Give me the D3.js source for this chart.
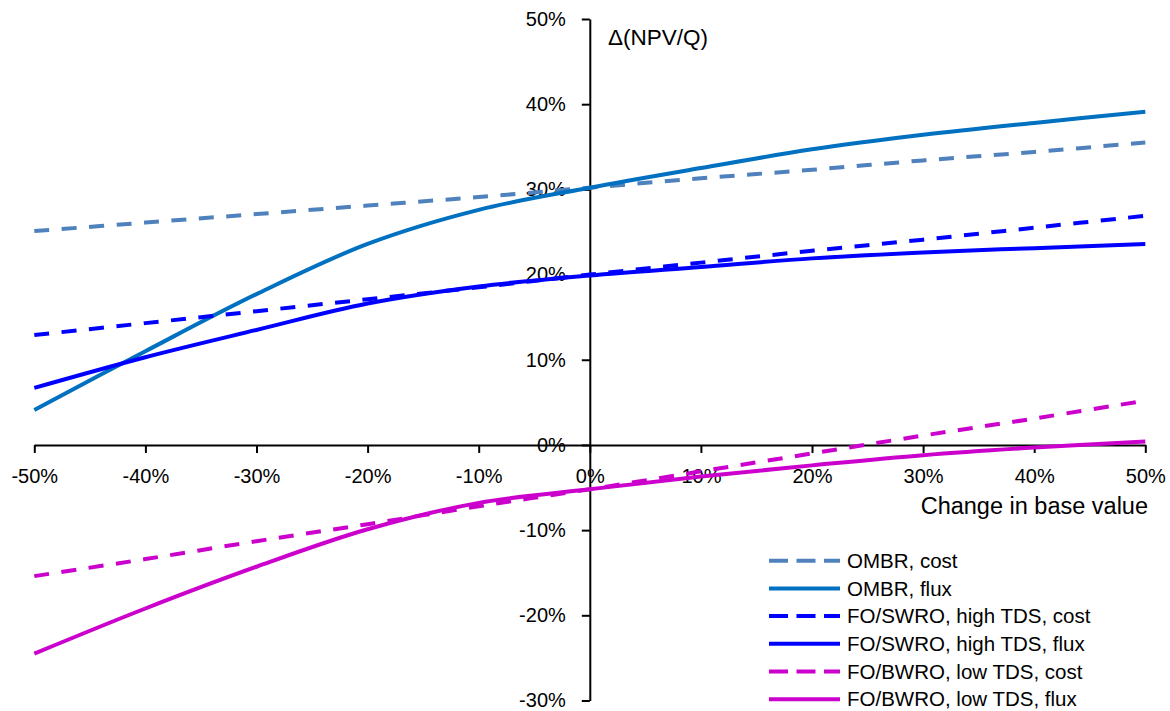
<!DOCTYPE html>
<html>
<head>
<meta charset="utf-8">
<script src="https://cdn.jsdelivr.net/npm/d3@7"></script>
<style>
  body { margin: 0; background: #fff; }
  text { font-family: "Liberation Sans", Arial, sans-serif; fill: #000; }
</style>
</head>
<body>
<script>
// change in base value (%)
const changes = [-50, -40, -30, -20, -10, 0, 10, 20, 30, 40, 50]

// delta NPV/Q (%)
const ombrCost = [25.1, 26.1, 27.1, 28.1, 29.1, 30.2, 31.3, 32.3, 33.4, 34.4, 35.5]
const ombrFlux = [4.1, 11.0, 17.7, 23.6, 27.6, 30.2, 32.5, 34.7, 36.4, 37.8, 39.1]
const swroCost = [12.9, 14.3, 15.7, 17.1, 18.5, 20.0, 21.4, 22.8, 24.1, 25.5, 26.9]
const swroFlux = [6.7, 10.3, 13.5, 16.6, 18.6, 19.9, 20.9, 21.9, 22.6, 23.1, 23.6]
const bwroCost = [-15.4, -13.4, -11.3, -9.3, -7.2, -5.2, -3.1, -1.0, 1.1, 3.1, 5.2]
const bwroFlux = [-24.5, -19.2, -14.3, -9.9, -6.8, -5.2, -3.7, -2.4, -1.2, -0.3, 0.4]

const seriesNames = ['OMBR, cost', 'OMBR, flux', 'FO/SWRO, high TDS, cost',
  'FO/SWRO, high TDS, flux', 'FO/BWRO, low TDS, cost', 'FO/BWRO, low TDS, flux']
const seriesValues = [ombrCost, ombrFlux, swroCost, swroFlux, bwroCost, bwroFlux]
const seriesColors = ['#4F81BD', '#0070C0', '#0000FF', '#0000FF', '#CC00CC', '#CC00CC']
const seriesDashed = [true, false, true, false, true, false]

const xTicks = [-50, -40, -30, -20, -10, 0, 10, 20, 30, 40, 50]
const yTicks = [-30, -20, -10, 0, 10, 20, 30, 40, 50]

const width = 1170, height = 711

const svg = d3.select('body')
  .append('svg')
  .attr('width', width)
  .attr('height', height)

const x = d3.scaleLinear().domain([-50, 50]).range([34.3, 1145.3])
const y = d3.scaleLinear().domain([-30, 50]).range([700.5, 19])

const fmt = d => d + '%'

// axes
svg.append('g')
  .attr('transform', `translate(${x(0)},0)`)
  .call(d3.axisLeft(y).tickValues(yTicks).tickFormat(fmt).tickSize(8).tickSizeOuter(0).tickPadding(16))

svg.append('g')
  .attr('transform', `translate(0,${y(0)})`)
  .call(d3.axisBottom(x).tickValues(xTicks).tickFormat(fmt).tickSize(8).tickSizeOuter(0).tickPadding(16))

svg.selectAll('.domain, .tick line')
  .attr('stroke', '#000')
  .attr('stroke-width', 2)

svg.selectAll('.tick text')
  .attr('font-size', 20)
  .attr('font-family', '"Liberation Sans", Arial, sans-serif')
  .attr('fill', '#000')

// axis titles
svg.append('text')
  .attr('x', 608)
  .attr('y', 45)
  .attr('font-size', 22.5)
  .text('Δ(NPV/Q)')

svg.append('text')
  .attr('x', 1148)
  .attr('y', 514)
  .attr('text-anchor', 'end')
  .attr('font-size', 23.5)
  .text('Change in base value')

// series
const line = d3.line()
  .x((d, i) => x(changes[i]))
  .y(d => y(d))
  .curve(d3.curveCatmullRom.alpha(0.5))

svg.selectAll('.series')
  .data(seriesValues)
  .enter().append('path')
    .attr('class', 'series')
    .attr('d', d => line(d))
    .attr('fill', 'none')
    .attr('stroke', (d, i) => seriesColors[i])
    .attr('stroke-width', 4)
    .attr('stroke-dasharray', (d, i) => seriesDashed[i] ? '15,12.5' : null)

// legend
const legend = svg.selectAll('.legend')
  .data(seriesNames)
  .enter().append('g')
    .attr('class', 'legend')
    .attr('transform', (d, i) => `translate(769,${560.7 + i * 27.7})`)

legend.append('line')
  .attr('x1', 0)
  .attr('x2', 71)
  .attr('stroke', (d, i) => seriesColors[i])
  .attr('stroke-width', 4)
  .attr('stroke-dasharray', (d, i) => seriesDashed[i] ? '19,8.5' : null)

legend.append('text')
  .attr('x', 78)
  .attr('dy', '0.35em')
  .attr('font-size', 20.5)
  .text(d => d)
</script>
</body>
</html>
